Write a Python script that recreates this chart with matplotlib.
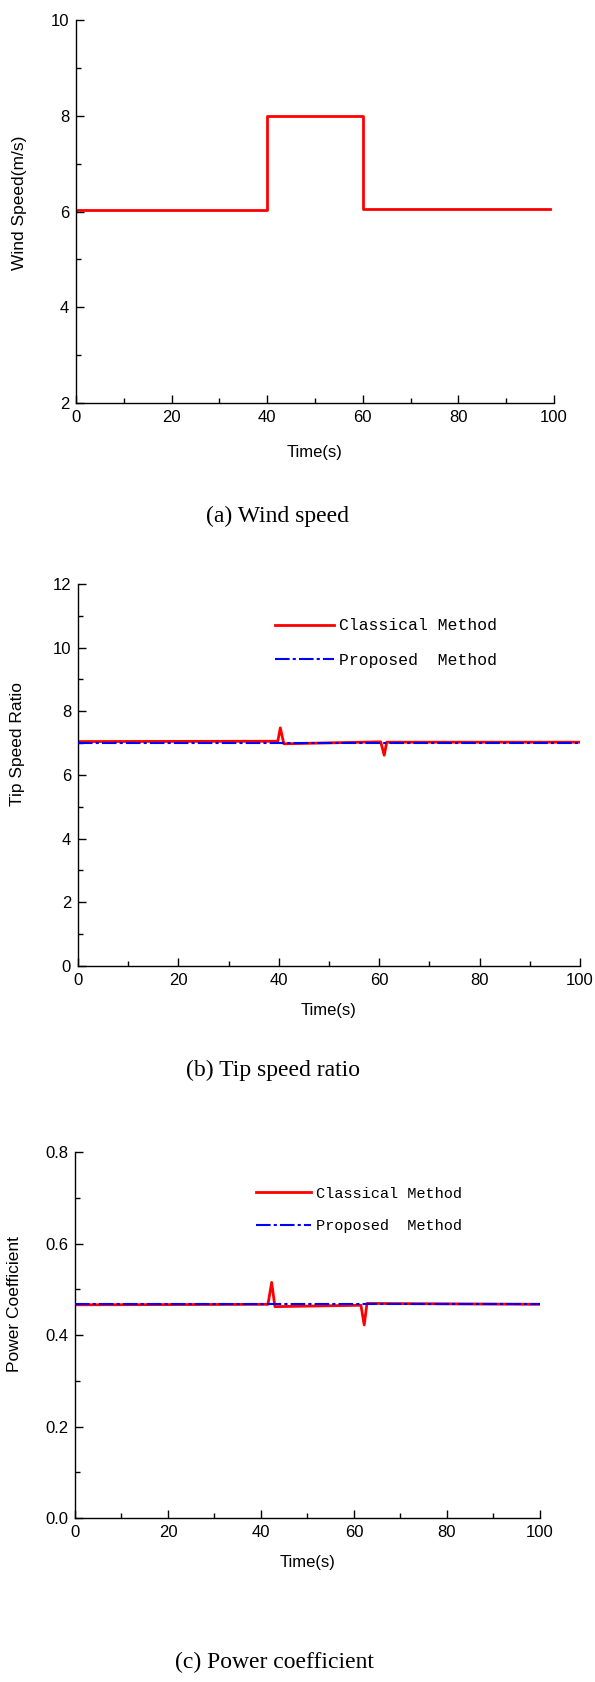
import numpy as np
import matplotlib
matplotlib.use('Agg')
import matplotlib.pyplot as plt
from matplotlib.ticker import MultipleLocator

plt.rcParams['font.family'] = ['Liberation Sans', 'DejaVu Sans']

# (a) wind speed step profile
wind_t = [0, 40, 40, 60, 60, 99.2]
wind_v = [6.04, 6.04, 8.0, 8.0, 6.06, 6.06]

# (b) tip speed ratio
tsr_cls_t = [0, 39.8, 40.3, 41.0, 59.8, 60.3, 61.0, 61.5, 100]
tsr_cls_v = [7.05, 7.06, 7.48, 6.98, 7.04, 7.04, 6.62, 7.03, 7.03]
tsr_prop_t = [0, 100]
tsr_prop_v = [7.02, 7.02]

# (c) power coefficient
cp_cls_t = [0, 41.5, 42.3, 43.0, 61.5, 62.2, 62.8, 101]
cp_cls_v = [0.466, 0.467, 0.515, 0.462, 0.465, 0.422, 0.469, 0.467]
cp_prop_t = [0, 101]
cp_prop_v = [0.468, 0.468]

labels = ['Classical Method', 'Proposed  Method']
captions = ['(a) Wind speed', '(b) Tip speed ratio', '(c) Power coefficient']

fig = plt.figure(figsize=(5.95, 16.82), dpi=100)

def style(ax, xmax, ymin, ymax, ymaj, ymin_step, ylab, fmt, ylx, yly, xly):
    ax.set_xlim(0, xmax)
    ax.set_ylim(ymin, ymax)
    ax.xaxis.set_major_locator(MultipleLocator(20))
    ax.xaxis.set_minor_locator(MultipleLocator(10))
    ax.yaxis.set_major_locator(MultipleLocator(ymaj))
    ax.yaxis.set_minor_locator(MultipleLocator(ymin_step))
    ax.yaxis.set_major_formatter(fmt)
    ax.xaxis.set_major_formatter('{x:.0f}')
    for s in ['top', 'right']:
        ax.spines[s].set_visible(False)
    for s in ['left', 'bottom']:
        ax.spines[s].set_linewidth(1.0)
    ax.tick_params(which='major', direction='in', length=6, width=1, labelsize=12, pad=5)
    ax.tick_params(which='minor', direction='in', length=3.5, width=1)
    ax.set_xlabel('Time(s)', fontsize=12)
    ax.set_ylabel(ylab, fontsize=12.5)
    ax.yaxis.set_label_coords(ylx, yly)
    ax.xaxis.set_label_coords(0.5, xly)

def legend(ax, x, y, fs):
    ax.legend(loc='upper left', bbox_to_anchor=(x, y), frameon=False,
              prop={'family': 'Liberation Mono', 'size': fs},
              handlelength=3.6, handletextpad=0.3, labelspacing=1.2,
              borderpad=0, borderaxespad=0)

def caption(txt, x, y):
    fig.text(x, 1 - y / 1682, txt, ha='center', va='center',
             family='Liberation Serif', fontsize=17)

# panel (a)
ax1 = fig.add_axes([0.1277, 0.7604, 0.8034, 0.2277])
ax1.plot(wind_t, wind_v, color='#ff0000', lw=2.0)
style(ax1, 100, 2, 10, 2, 1, 'Wind Speed(m/s)', '{x:.0f}', -0.1025, 0.522, -0.11)
caption(captions[0], 0.466, 516)

# panel (b)
ax2 = fig.add_axes([0.1311, 0.4257, 0.8437, 0.2271])
ax2.plot(tsr_cls_t, tsr_cls_v, color='#ff0000', lw=2.0, label=labels[0], zorder=2)
ax2.plot(tsr_prop_t, tsr_prop_v, color='#0000ff', lw=1.5, dashes=(7, 1.5, 1.5, 1.5),
         label=labels[1], zorder=3)
style(ax2, 100, 0, 12, 2, 1, 'Tip Speed Ratio', '{x:.0f}', -0.106, 0.58, -0.097)
legend(ax2, 0.392, 0.91, 11.8)
caption(captions[1], 0.459, 1070)

# panel (c)
ax3 = fig.add_axes([0.126, 0.0975, 0.7815, 0.2176])
ax3.plot(cp_cls_t, cp_cls_v, color='#ff0000', lw=2.0, label=labels[0], zorder=2)
ax3.plot(cp_prop_t, cp_prop_v, color='#0000ff', lw=1.5, dashes=(7, 1.5, 1.5, 1.5),
         label=labels[1], zorder=3)
style(ax3, 100, 0, 0.8, 0.2, 0.1, 'Power Coefficient', '{x:.1f}', -0.114, 0.585, -0.101)
legend(ax3, 0.39, 0.905, 11.0)
caption(captions[2], 0.461, 1662)

fig.savefig('out.png', dpi=100)
